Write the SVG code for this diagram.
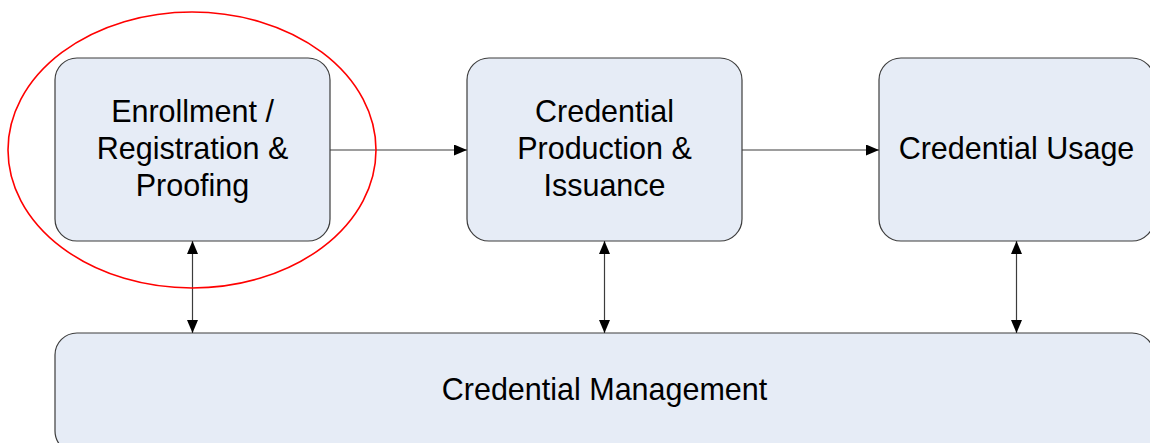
<svg xmlns="http://www.w3.org/2000/svg" width="1150" height="443" viewBox="0 0 1150 443">
  <style>
    .box { fill: #E6ECF6; stroke: #3C3C3C; stroke-width: 1.2; }
    .label { font-family: "Liberation Sans", Arial, sans-serif; font-size: 30.5px; fill: #000; text-anchor: middle; }
    .link { stroke: #3C3C3C; stroke-width: 1.2; fill: none; }
  </style>
  <defs>
    <marker id="head" viewBox="0 0 13 11" refX="13" refY="5.5" markerWidth="13" markerHeight="11" markerUnits="userSpaceOnUse" orient="auto-start-reverse">
      <path d="M0,0 L13,5.5 L0,11 Z" fill="#000"/>
    </marker>
  </defs>
  <rect width="1150" height="443" fill="#fff"/>

  <g id="node-enrollment">
    <rect class="box" x="55" y="58" width="275" height="183" rx="22" ry="22"/>
    <text class="label" x="192.5" y="121.5">Enrollment /</text>
    <text class="label" x="192.5" y="158.5">Registration &amp;</text>
    <text class="label" x="192.5" y="195.5">Proofing</text>
  </g>

  <g id="node-production">
    <rect class="box" x="467" y="58" width="275" height="183" rx="22" ry="22"/>
    <text class="label" x="604.5" y="121.5">Credential</text>
    <text class="label" x="604.5" y="158.5">Production &amp;</text>
    <text class="label" x="604.5" y="195.5">Issuance</text>
  </g>

  <g id="node-usage">
    <rect class="box" x="879" y="58" width="275" height="183" rx="22" ry="22"/>
    <text class="label" x="1016.5" y="158.5">Credential Usage</text>
  </g>

  <g id="node-management">
    <rect class="box" x="55" y="333" width="1099" height="120" rx="22" ry="22"/>
    <text class="label" x="604.5" y="400">Credential Management</text>
  </g>

  <g id="connectors">
    <line class="link" x1="330" y1="150" x2="467" y2="150" marker-end="url(#head)"/>
    <line class="link" x1="742" y1="150" x2="879" y2="150" marker-end="url(#head)"/>
    <line class="link" x1="192.5" y1="241" x2="192.5" y2="333" marker-start="url(#head)" marker-end="url(#head)"/>
    <line class="link" x1="604.5" y1="241" x2="604.5" y2="333" marker-start="url(#head)" marker-end="url(#head)"/>
    <line class="link" x1="1016.5" y1="241" x2="1016.5" y2="333" marker-start="url(#head)" marker-end="url(#head)"/>
  </g>

  <g id="highlight">
    <ellipse cx="192" cy="150" rx="184" ry="138" fill="none" stroke="#FF0000" stroke-width="1.6"/>
  </g>
</svg>
